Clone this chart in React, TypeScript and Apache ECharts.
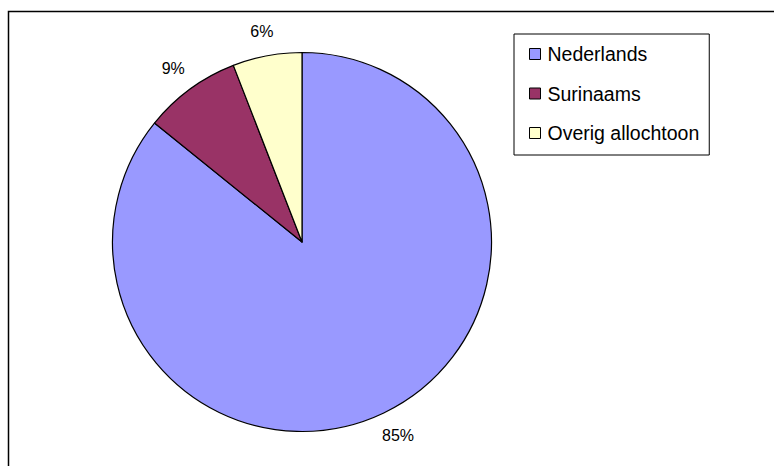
import React, { useEffect, useRef } from "react";
import * as echarts from "echarts";

const categories = ["Nederlands", "Surinaams", "Overig allochtoon"];
const values = [85.8, 8.3, 5.9];
const labelTexts = ["85%", "9%", "6%"];
const colors = ["#9999FF", "#993366", "#FFFFCC"];

export default function App() {
  const ref = useRef<HTMLDivElement>(null);
  useEffect(() => {
    if (!ref.current) return;
    const chart = echarts.init(ref.current, null, { renderer: "svg" });
    const font = "Arial, 'Liberation Sans', sans-serif";
    const total = values.reduce((a, b) => a + b, 0);
    const midAngles: number[] = [];
    let acc = 0;
    values.forEach((v) => {
      const mid = 90 - ((acc + v / 2) / total) * 360;
      midAngles.push((mid * Math.PI) / 180);
      acc += v;
    });
    chart.setOption({
      animation: false,
      backgroundColor: "#ffffff",
      graphic: [
        {
          type: "rect",
          silent: true,
          shape: { x: 8.5, y: 11.5, width: 800, height: 500 },
          style: { fill: "none", stroke: "#000", lineWidth: 1.5 },
          z: 0,
        },
      ],
      legend: {
        orient: "vertical",
        left: 514,
        top: 34,
        width: 190,
        padding: [10, 10, 12, 15],
        borderColor: "#000",
        borderWidth: 1,
        backgroundColor: "#fff",
        itemWidth: 11,
        itemHeight: 11,
        itemGap: 19.5,
        icon: "rect",
        itemStyle: { borderColor: "#000", borderWidth: 1 },
        textStyle: { fontFamily: font, fontSize: 19.5, color: "#000", padding: [0, 0, 0, 2] },
        data: categories,
      },
      series: [
        {
          type: "pie",
          center: [302, 242],
          radius: 189.5,
          startAngle: 90,
          clockwise: true,
          avoidLabelOverlap: false,
          itemStyle: { borderColor: "#000", borderWidth: 1.2 },
          emphasis: { disabled: true },
          label: {
            show: true,
            position: "outside",
            fontFamily: font,
            fontSize: 16,
            color: "#000",
            distanceToLabelLine: 0,
            formatter: (p: any) => labelTexts[p.dataIndex],
          },
          labelLine: { show: false, length: 17, length2: 0 },
          labelLayout: (params: any) => {
            const a = midAngles[params.dataIndex];
            const w = params.labelRect.width;
            const h = params.labelRect.height;
            return {
              align: "center",
              verticalAlign: "middle",
              dx: (Math.cos(a) * w) / 2,
              dy: (-Math.sin(a) * h) / 2,
            };
          },
          data: categories.map((name, i) => ({
            name,
            value: values[i],
            itemStyle: { color: colors[i] },
          })),
        },
      ],
    });
    return () => chart.dispose();
  }, []);
  return (
    <div
      ref={ref}
      style={{ position: "fixed", left: 0, top: 0, width: 774, height: 466 }}
    />
  );
}
